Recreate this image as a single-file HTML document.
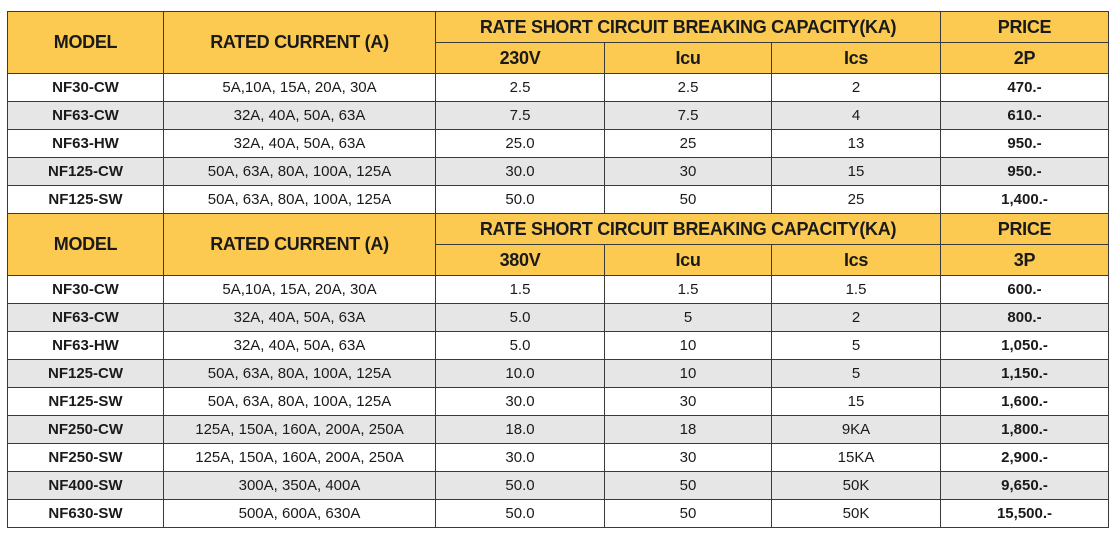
<!DOCTYPE html>
<html><head><meta charset="utf-8"><style>
html,body{margin:0;padding:0;background:#fff;width:1119px;height:538px;overflow:hidden}
table{position:absolute;left:7px;top:11px;border-collapse:collapse;width:1101px;table-layout:fixed;font-family:"Liberation Sans",sans-serif;color:#1a1a1a}
td{border:1.5px solid #3a3a3a;text-align:center;padding:0;font-size:15px;height:27px;white-space:nowrap}
tr.h td{background:#fcca50;font-weight:bold;font-size:18px;letter-spacing:-0.3px;height:30px}
tr.g td{background:#e6e6e6}
td.b{font-weight:bold}
</style></head><body>
<table>
<colgroup><col style="width:156px"><col style="width:272px"><col style="width:169px"><col style="width:167px"><col style="width:169px"><col style="width:168px"></colgroup>
<tr class="h"><td rowspan="2">MODEL</td><td rowspan="2">RATED CURRENT (A)</td><td colspan="3">RATE SHORT CIRCUIT BREAKING CAPACITY(KA)</td><td>PRICE</td></tr>
<tr class="h"><td>230V</td><td>Icu</td><td>Ics</td><td>2P</td></tr>
<tr><td class="b">NF30-CW</td><td>5A,10A, 15A, 20A, 30A</td><td>2.5</td><td>2.5</td><td>2</td><td class="b">470.-</td></tr>
<tr class="g"><td class="b">NF63-CW</td><td>32A, 40A, 50A, 63A</td><td>7.5</td><td>7.5</td><td>4</td><td class="b">610.-</td></tr>
<tr><td class="b">NF63-HW</td><td>32A, 40A, 50A, 63A</td><td>25.0</td><td>25</td><td>13</td><td class="b">950.-</td></tr>
<tr class="g"><td class="b">NF125-CW</td><td>50A, 63A, 80A, 100A, 125A</td><td>30.0</td><td>30</td><td>15</td><td class="b">950.-</td></tr>
<tr><td class="b">NF125-SW</td><td>50A, 63A, 80A, 100A, 125A</td><td>50.0</td><td>50</td><td>25</td><td class="b">1,400.-</td></tr>
<tr class="h"><td rowspan="2">MODEL</td><td rowspan="2">RATED CURRENT (A)</td><td colspan="3">RATE SHORT CIRCUIT BREAKING CAPACITY(KA)</td><td>PRICE</td></tr>
<tr class="h"><td>380V</td><td>Icu</td><td>Ics</td><td>3P</td></tr>
<tr><td class="b">NF30-CW</td><td>5A,10A, 15A, 20A, 30A</td><td>1.5</td><td>1.5</td><td>1.5</td><td class="b">600.-</td></tr>
<tr class="g"><td class="b">NF63-CW</td><td>32A, 40A, 50A, 63A</td><td>5.0</td><td>5</td><td>2</td><td class="b">800.-</td></tr>
<tr><td class="b">NF63-HW</td><td>32A, 40A, 50A, 63A</td><td>5.0</td><td>10</td><td>5</td><td class="b">1,050.-</td></tr>
<tr class="g"><td class="b">NF125-CW</td><td>50A, 63A, 80A, 100A, 125A</td><td>10.0</td><td>10</td><td>5</td><td class="b">1,150.-</td></tr>
<tr><td class="b">NF125-SW</td><td>50A, 63A, 80A, 100A, 125A</td><td>30.0</td><td>30</td><td>15</td><td class="b">1,600.-</td></tr>
<tr class="g"><td class="b">NF250-CW</td><td>125A, 150A, 160A, 200A, 250A</td><td>18.0</td><td>18</td><td>9KA</td><td class="b">1,800.-</td></tr>
<tr><td class="b">NF250-SW</td><td>125A, 150A, 160A, 200A, 250A</td><td>30.0</td><td>30</td><td>15KA</td><td class="b">2,900.-</td></tr>
<tr class="g"><td class="b">NF400-SW</td><td>300A, 350A, 400A</td><td>50.0</td><td>50</td><td>50K</td><td class="b">9,650.-</td></tr>
<tr><td class="b">NF630-SW</td><td>500A, 600A, 630A</td><td>50.0</td><td>50</td><td>50K</td><td class="b">15,500.-</td></tr>
</table>
</body></html>
